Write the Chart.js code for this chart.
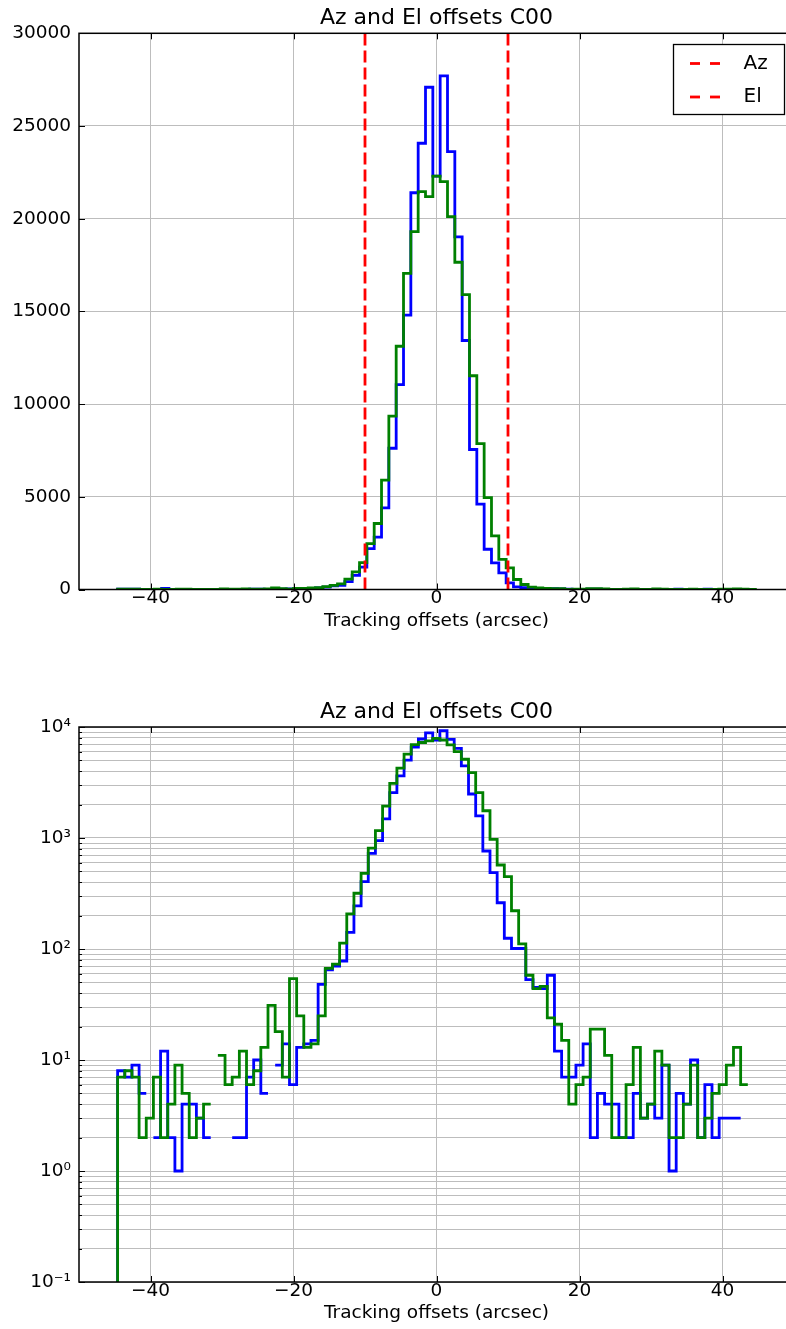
<!DOCTYPE html>
<html>
<head>
<meta charset="utf-8">
<title>Az and El offsets C00</title>
<script src="https://cdn.jsdelivr.net/npm/chart.js@4.4.1/dist/chart.umd.min.js"></script>
<style>
  html, body { margin: 0; padding: 0; background: #fff; overflow: hidden; }
  #wrap { position: relative; width: 786px; height: 1329px; overflow: hidden; }
  canvas { position: absolute; left: 0; }
  #topChart { top: 0; }
  #logChart { top: 655px; }
</style>
</head>
<body>
<div id="wrap">
  <canvas id="topChart" width="794" height="655" style="width:794px;height:655px"></canvas>
  <canvas id="logChart" width="794" height="674" style="width:794px;height:674px"></canvas>
</div>
<script>
// ---- data ----
const chartTitle = 'Az and El offsets C00';
const xLabel = 'Tracking offsets (arcsec)';
const xTicks = [-40, -20, 0, 20, 40];
const yTicksTop = [0, 5000, 10000, 15000, 20000, 25000, 30000];
const logDecades = [0.1, 1, 10, 100, 1000, 10000];
const logTickLabels = ['10\u207B\u00B9', '10\u2070', '10\u00B9', '10\u00B2', '10\u00B3', '10\u2074'];
const limitLines = [-10, 10];
const limitLabels = ['Az', 'El'];

// upper panel: 87 bins over [-44.6, 44.6]
const topRange = [-44.6, 44.6];
const topAz = [
  20, 15, 20, 10, 0, 5, 60, 5, 3, 10,
  10, 8, 5, 0, 0, 0, 5, 5, 15, 20,
  10, 0, 20, 30, 15, 30, 60, 90, 130, 200,
  230, 430, 760, 1210, 2200, 2830, 4400, 7620, 11050, 14800,
  21400, 24070, 27090, 22300, 27700, 23620, 19025, 13430, 7550, 4600,
  2170, 1440, 900, 360, 140, 100, 80, 60, 50, 40,
  30, 15, 10, 10, 15, 20, 5, 10, 8, 8,
  5, 5, 10, 8, 8, 5, 15, 3, 10, 8,
  15, 5, 10, 5, 5, 5, 0
];
const topEl = [
  20, 25, 20, 5, 10, 20, 5, 10, 25, 15,
  5, 10, 10, 0, 30, 15, 20, 30, 15, 20,
  35, 80, 50, 20, 60, 60, 80, 100, 150, 220,
  300, 560, 950, 1450, 2470, 3560, 5900, 9350, 13120, 17050,
  19300, 21460, 21190, 22300, 22000, 20110, 17650, 15900, 11530, 7870,
  4960, 2890, 1620, 1170, 540, 270, 130, 80, 60, 50,
  40, 10, 15, 20, 50, 50, 30, 5, 5, 15,
  35, 8, 10, 30, 25, 5, 5, 10, 25, 5,
  8, 12, 15, 25, 35, 15, 10
];

// lower panel (log): 88 bins over [-44.6, 43.54]
const logRange = [-44.6, 43.54];
const logAz = [
  8, 7, 9, 5, 0, 2, 12, 2, 1, 4,
  4, 3, 2, 0, 0, 0, 2, 2, 7, 10,
  5, 0, 9, 14, 6, 13, 14, 15, 48, 65,
  70, 78, 141, 245, 405, 728, 946, 1490, 2560, 3630,
  5020, 6600, 7800, 8850, 7640, 9270, 7740, 6430, 4460, 2490,
  1580, 764, 487, 261, 125, 101, 101, 53, 45, 44,
  58, 12, 7, 7, 9, 14, 2, 5, 4, 4,
  2, 2, 5, 3, 4, 3, 9, 1, 5, 4,
  10, 2, 6, 2, 3, 3, 3, 0
];
const logEl = [
  7, 8, 7, 2, 3, 7, 2, 4, 9, 5,
  2, 3, 4, 0, 11, 6, 7, 12, 6, 8,
  13, 31, 18, 7, 54, 25, 13, 14, 25, 67,
  73, 113, 207, 318, 481, 812, 1165, 1940, 3100, 4260,
  5700, 6950, 7250, 7500, 7910, 7640, 6890, 5990, 5120, 3880,
  2560, 1760, 973, 571, 449, 221, 111, 58, 44, 46,
  24, 21, 15, 4, 6, 7, 19, 19, 11, 2,
  2, 6, 13, 3, 4, 12, 9, 2, 2, 4,
  9, 2, 3, 5, 6, 9, 13, 6
];

// ---- helpers ----
const fontFamily = "'DejaVu Sans', sans-serif";
Chart.defaults.font.family = fontFamily;
Chart.defaults.font.size = 18.5;
Chart.defaults.color = '#000';
Chart.defaults.animation = false;
const gridColor = '#bdbdbd';

function binEdges(range, n) {
  const edges = [];
  for (let i = 0; i <= n; i++) edges.push(range[0] + (range[1] - range[0]) * i / n);
  return edges;
}

// histtype='step' outline: flat over each bin, vertical jump at each edge
function histSteps(edges, counts, log, start, end) {
  const pts = [];
  if (start !== undefined) pts.push({x: edges[0], y: start});
  counts.forEach((c, i) => {
    const y = (log && c <= 0) ? null : c;
    pts.push({x: edges[i], y: y}, {x: edges[i + 1], y: y});
  });
  if (end !== undefined) pts.push({x: edges[edges.length - 1], y: end});
  return pts;
}

function fmtX(v) {
  return v < 0 ? '\u2212' + Math.abs(v) : String(v);
}

function histDataset(label, data, color, order) {
  return {
    label: label, data: data, borderColor: color, backgroundColor: color,
    borderWidth: 2.8, pointRadius: 0, borderJoinStyle: 'miter', order: order
  };
}

// spines + inward tick marks, like the matplotlib frame
const framePlugin = {
  id: 'frame',
  afterDraw(chart) {
    const {ctx, chartArea: a, scales: {x, y}} = chart;
    ctx.save();
    ctx.strokeStyle = '#000';
    ctx.lineWidth = 1;
    ctx.beginPath();
    x.ticks.forEach(t => {
      const px = Math.round(x.getPixelForValue(t.value)) + 0.5;
      ctx.moveTo(px, a.bottom); ctx.lineTo(px, a.bottom - 6);
      ctx.moveTo(px, a.top); ctx.lineTo(px, a.top + 6);
    });
    y.ticks.forEach(t => {
      const py = Math.round(y.getPixelForValue(t.value)) + 0.5;
      ctx.moveTo(a.left, py); ctx.lineTo(a.left + (t.label ? 6 : 3), py);
    });
    ctx.stroke();
    ctx.lineWidth = 1.5;
    ctx.strokeRect(a.left, a.top, a.right - a.left, a.bottom - a.top);
    ctx.restore();
  }
};

// axes title centred over the axes
const titlePlugin = {
  id: 'axTitle',
  afterDraw(chart, args, opts) {
    const {ctx, chartArea: a} = chart;
    ctx.save();
    ctx.font = '22px ' + fontFamily;
    ctx.fillStyle = '#000';
    ctx.textAlign = 'center';
    ctx.textBaseline = 'alphabetic';
    ctx.fillText(opts.text, (a.left + a.right) / 2, a.top - 9);
    ctx.restore();
  }
};

// boxed legend in the upper right corner of the axes
const boxLegendPlugin = {
  id: 'boxLegend',
  afterDraw(chart, args, opts) {
    if (!opts.show) return;
    const {ctx, chartArea: a} = chart;
    const items = chart.data.datasets.filter(d => d.inLegend);
    const w = 111, h = 70;
    const left = Math.round(a.right - 121.5) + 0.5, top = Math.round(a.top + 11) + 0.5;
    ctx.save();
    ctx.fillStyle = '#fff';
    ctx.fillRect(left, top, w, h);
    ctx.strokeStyle = '#000';
    ctx.lineWidth = 1.3;
    ctx.strokeRect(left, top, w, h);
    items.forEach((d, i) => {
      const yy = top + 19 + i * 33.5;
      ctx.strokeStyle = d.borderColor;
      ctx.lineWidth = d.borderWidth;
      ctx.setLineDash([10, 10]);
      ctx.beginPath();
      ctx.moveTo(left + 16.5, yy); ctx.lineTo(left + 46.5, yy);
      ctx.stroke();
      ctx.setLineDash([]);
      ctx.fillStyle = '#000';
      ctx.font = '20px ' + fontFamily;
      ctx.textAlign = 'left';
      ctx.textBaseline = 'middle';
      ctx.fillText(d.label, left + 70, yy);
    });
    ctx.restore();
  }
};

function xScale(height, titlePad) {
  return {
    type: 'linear', min: -50, max: 50,
    afterBuildTicks: s => { s.ticks = xTicks.map(v => ({value: v})); },
    afterFit: s => { s.height = height; },
    ticks: { callback: v => fmtX(v), padding: -2, maxRotation: 0, autoSkip: false },
    grid: { color: gridColor, lineWidth: 1, drawTicks: false },
    border: { display: false },
    title: { display: true, text: xLabel, padding: { top: 0, bottom: titlePad } }
  };
}

// ---- upper panel: linear counts ----
const topEdges = binEdges(topRange, topAz.length);
const topDatasets = [
  histDataset('Az offsets', histSteps(topEdges, topAz, false, 0, 0), '#0000ff', 2),
  histDataset('El offsets', histSteps(topEdges, topEl, false, 0, 0), '#008000', 1)
];
limitLines.forEach((v, i) => {
  topDatasets.push({
    label: limitLabels[i], inLegend: true,
    data: [{x: v, y: yTicksTop[0]}, {x: v, y: yTicksTop[yTicksTop.length - 1]}],
    borderColor: '#ff0000', borderWidth: 2.8, borderDash: [12, 5], pointRadius: 0, order: 0
  });
});

new Chart(document.getElementById('topChart'), {
  type: 'line',
  data: { datasets: topDatasets },
  options: {
    responsive: false,
    animation: false,
    layout: { padding: { top: 33.3, left: 0, right: 0, bottom: 0 } },
    plugins: {
      legend: { display: false },
      tooltip: { enabled: false },
      axTitle: { text: chartTitle },
      boxLegend: { show: true }
    },
    scales: {
      x: xScale(65.5, 22.9),
      y: {
        type: 'linear', min: 0, max: 30000,
        afterBuildTicks: s => { s.ticks = yTicksTop.map(v => ({value: v})); },
        afterFit: s => { s.width = 79; },
        ticks: { padding: 8, autoSkip: false, callback: v => String(v) },
        grid: { color: gridColor, lineWidth: 1, drawTicks: false },
        border: { display: false }
      }
    }
  },
  plugins: [framePlugin, titlePlugin, boxLegendPlugin]
});

// ---- lower panel: log counts ----
const logEdges = binEdges(logRange, logAz.length);
const logTickValues = [];
logDecades.forEach((d, i) => {
  if (i === logDecades.length - 1) { logTickValues.push(d); return; }
  for (let m = 1; m <= 9; m++) logTickValues.push(d * m);
});

new Chart(document.getElementById('logChart'), {
  type: 'line',
  data: {
    datasets: [
      histDataset('Az offsets', histSteps(logEdges, logAz, true, 0.001), '#0000ff', 2),
      histDataset('El offsets', histSteps(logEdges, logEl, true, 0.001), '#008000', 1)
    ]
  },
  options: {
    responsive: false,
    animation: false,
    layout: { padding: { top: 72, left: 0, right: 0, bottom: 0 } },
    plugins: {
      legend: { display: false },
      tooltip: { enabled: false },
      axTitle: { text: chartTitle },
      boxLegend: { show: false }
    },
    scales: {
      x: xScale(47, 4.9),
      y: {
        type: 'logarithmic', min: 0.1, max: 10000,
        afterBuildTicks: s => { s.ticks = logTickValues.map(v => ({value: v})); },
        afterFit: s => { s.width = 79; },
        ticks: {
          padding: 8, autoSkip: false,
          callback: v => {
            const i = logDecades.findIndex(d => Math.abs(d - v) < 1e-9);
            return i < 0 ? '' : logTickLabels[i];
          }
        },
        grid: { color: gridColor, lineWidth: 1, drawTicks: false },
        border: { display: false }
      }
    }
  },
  plugins: [framePlugin, titlePlugin, boxLegendPlugin]
});
</script>
</body>
</html>
